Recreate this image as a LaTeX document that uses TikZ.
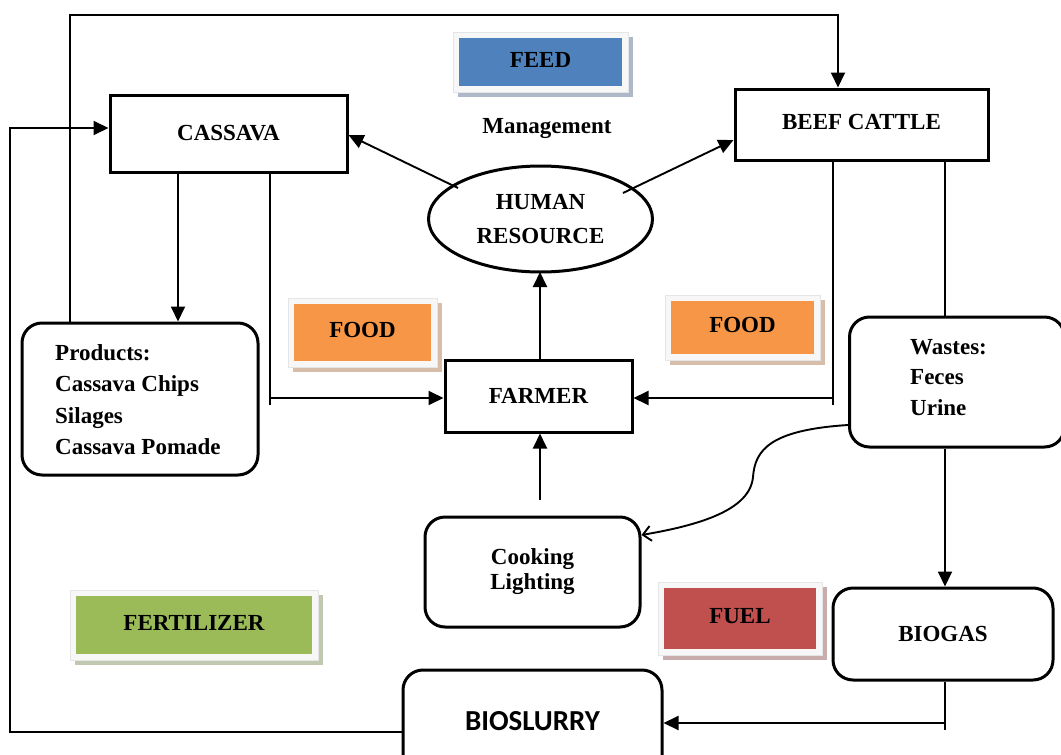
\documentclass[tikz,border=0pt]{standalone}
\usepackage{fontspec}
\setmainfont{Liberation Serif}
\newfontfamily\calib{Carlito}
\usetikzlibrary{arrows.meta,shapes.geometric}
\definecolor{cblue}{HTML}{4F81BD}
\definecolor{corange}{HTML}{F79646}
\definecolor{cgreen}{HTML}{9BBB59}
\definecolor{cred}{HTML}{C0504D}
\newcommand\mylabelbox[7]{%
  \fill[#6!45!gray!55] (#2+5,#3+5) rectangle (#4+5,#5+5);
  \filldraw[fill=white!94!gray, draw=gray!20, line width=0.6pt] (#2,#3) rectangle (#4,#5);
  \node[fill=#6, minimum width=#4-#2-12, minimum height=#5-#3-12, inner sep=0pt,
        font=\fontsize{23}{26}\selectfont\bfseries] (#1) at ({(#2+#4)/2},{(#3+#5)/2}) {\raisebox{5pt}{#7}};
}
\tikzset{
  txt/.style={font=\fontsize{23}{31}\selectfont\bfseries},
  sqbox/.style={draw, line width=3pt, rectangle, inner sep=0pt, txt},
  rbox/.style={draw, line width=3pt, rectangle, rounded corners=20pt, inner sep=0pt, txt},
  conn/.style={line width=1.9pt, -{Triangle[length=15pt,width=14pt]}},
  plain/.style={line width=1.9pt},
}
\begin{document}
\begin{tikzpicture}[x=1pt,y=-1pt]
\useasboundingbox (0,0) rectangle (1061,755);
\clip (0,0) rectangle (1061,755);

% label boxes
\mylabelbox{feed}{453}{32}{628}{92}{cblue}{FEED}
\mylabelbox{food1}{288}{298}{437}{367}{corange}{FOOD}
\mylabelbox{food2}{665}{295}{820}{360}{corange}{FOOD}
\mylabelbox{fert}{70}{590}{318}{660}{cgreen}{FERTILIZER}
\mylabelbox{fuel}{658}{582}{822}{655}{cred}{FUEL}

% main nodes
\node[sqbox, minimum width=237, minimum height=77] (cassava) at (228.5,133.5) {CASSAVA};
\node[sqbox, minimum width=253, minimum height=71] (beef) at (861.5,124.5) {\raisebox{5pt}{BEEF CATTLE}};
\node[draw, line width=3pt, ellipse, minimum width=224, minimum height=106, inner sep=0pt, align=center,
      font=\fontsize{23}{34}\selectfont\bfseries] (human) at (540.5,219) {HUMAN\\RESOURCE};
\node[txt] (mgmt) at (547,129) {Management};
\node[sqbox, minimum width=187, minimum height=72] (farmer) at (538.5,396) {FARMER};
\node[rbox, minimum width=236, minimum height=152] (products) at (140,399) {};
\node[txt, anchor=north west, align=left, inner sep=0pt, font=\fontsize{23}{31.5}\selectfont\bfseries] (prodtxt) at (55,344)
  {Products:\\Cassava Chips\\Silages\\Cassava Pomade};
\node[rbox, minimum width=215, minimum height=130] (wastes) at (957,382) {};
\node[txt, anchor=north west, align=left, inner sep=0pt, font=\fontsize{23}{30.5}\selectfont\bfseries] (wastxt) at (910,339)
  {Wastes:\\Feces\\Urine};
\node[rbox, minimum width=215, minimum height=110, align=center,
      font=\fontsize{23}{25}\selectfont\bfseries] (cooking) at (532.5,572) {Cooking\\Lighting};
\node[rbox, minimum width=220, minimum height=92] (biogas) at (943,634) {BIOGAS};
\node[rbox, minimum width=259, minimum height=110, font=\calib\fontsize{29}{32}\selectfont\bfseries] (bioslurry) at (532.5,725) {\raisebox{9pt}{BIOSLURRY}};

% coordinates
\coordinate (tl) at (70,15);
\coordinate (tr) at (838,15);
\coordinate (cx) at (178,0);
\coordinate (ct) at (270,405);
\coordinate (cf) at (270,398);
\coordinate (bt) at (833,405);
\coordinate (bf) at (833,398);
\coordinate (wx) at (945,0);
\coordinate (gt) at (945,730);
\coordinate (gs) at (945,723);
\coordinate (lb) at (10,732);
\coordinate (lt) at (10,128);
\coordinate (ck) at (540,500);
\coordinate (hl) at (458,188);
\coordinate (hr) at (623,193);
\coordinate (cw) at (0,135);
\coordinate (bw) at (0,140);

% connectors
\draw[conn] (tl |- products.north) -- (tl) -- (tr) -- (tr |- beef.north);
\draw[conn] (cx |- cassava.south) -- (cx |- products.north);
\draw[plain] (ct |- cassava.south) -- (ct);
\draw[conn] (cf) -- (cf -| farmer.west);
\draw[plain] (bt |- beef.south) -- (bt);
\draw[conn] (bf) -- (bf -| farmer.east);
\draw[plain] (wx |- beef.south) -- (wx |- wastes.north);
\draw[conn] (wx |- wastes.south) -- (wx |- biogas.north);
\draw[plain] (gt |- biogas.south) -- (gt);
\draw[conn] (gs) -- (gs -| bioslurry.east);
\draw[conn] (lb -| bioslurry.west) -- (lb) -- (lt) -- (lt -| cassava.west);
\draw[conn] (farmer.north -| 540,0) -- (540,272);
\draw[conn] (ck) -- (ck |- farmer.south);
\draw[conn] (hl) -- (cw -| cassava.east);
\draw[conn] (hr) -- (bw -| beef.west);
\draw[line width=1.9pt, -{Straight Barb[length=8pt,width=15pt]}]
  (wastes.west |- 0,425) .. controls (770,430) and (755,450) .. (753,477)
  .. controls (750,510) and (700,525) .. (cooking.east |- 0,535);
\end{tikzpicture}
\end{document}
